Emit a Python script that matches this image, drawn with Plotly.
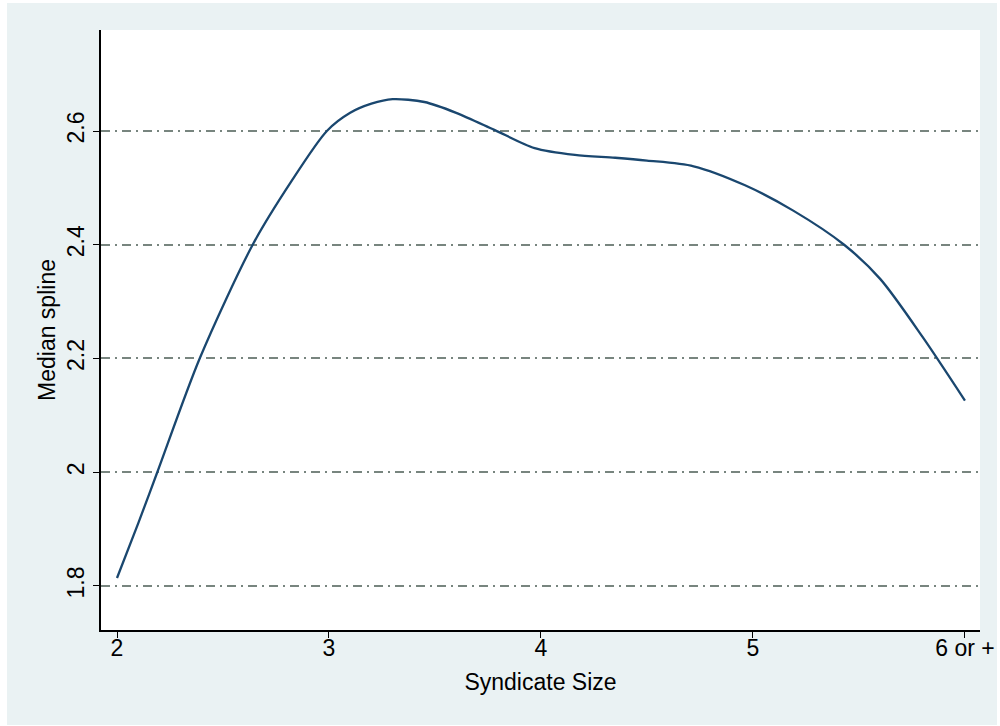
import plotly.graph_objects as go

# Data
syndicate_size = [2.0, 2.1, 2.19, 2.39, 2.64, 2.82, 2.99, 3.1, 3.2, 3.3, 3.45, 3.6, 3.78, 3.97,
                  4.16, 4.35, 4.5, 4.72, 4.96, 5.19, 5.43, 5.6, 5.8, 6.0]
median_spline = [1.814, 1.91, 2.0, 2.2, 2.4, 2.51, 2.6, 2.632, 2.648, 2.656, 2.651, 2.632, 2.602, 2.570,
                 2.558, 2.553, 2.548, 2.538, 2.505, 2.46, 2.40, 2.34, 2.238, 2.126]

x_tickvals = [2, 3, 4, 5, 6]
x_ticktext = ["2", "3", "4", "5", "6 or +"]
y_tickvals = [1.8, 2.0, 2.2, 2.4, 2.6]
y_ticktext = ["1.8", "2", "2.2", "2.4", "2.6"]

FONT = "Arial, Liberation Sans, sans-serif"
FS = 23

fig = go.Figure()
fig.add_trace(go.Scatter(
    x=syndicate_size, y=median_spline, mode="lines",
    line=dict(color="#1a476f", width=2.3, shape="spline", smoothing=0.8),
    showlegend=False, hoverinfo="skip"))

L, R, T, B = 101, 20, 30, 96
W, H = 1000, 726
pw, ph = W - L - R, H - T - B

def px_to_paper_x(px):
    return (px - L) / pw

def px_to_paper_y(py):
    return (H - B - py) / ph

fig.add_shape(type="rect", xref="paper", yref="paper",
              x0=px_to_paper_x(7), x1=px_to_paper_x(997),
              y0=px_to_paper_y(725), y1=px_to_paper_y(3),
              fillcolor="#eaf2f3", line=dict(width=0), layer="below")
fig.add_shape(type="rect", xref="paper", yref="paper",
              x0=0, x1=1, y0=0, y1=1,
              fillcolor="white", line=dict(width=0), layer="below")

fig.update_layout(
    width=W, height=H,
    margin=dict(l=L, r=R, t=T, b=B, autoexpand=False),
    paper_bgcolor="white", plot_bgcolor="rgba(0,0,0,0)",
    font=dict(family=FONT, size=FS, color="black"),
    xaxis=dict(range=[1.9245, 6.071], tickvals=x_tickvals, ticktext=x_ticktext,
               showgrid=False, zeroline=False, showline=True, linecolor="black", linewidth=1.5,
               ticks="outside", ticklen=6, tickwidth=1, tickcolor="black",
               ticklabelstandoff=-9,
               tickfont=dict(family=FONT, size=FS),
               title=dict(text="Syndicate Size", font=dict(family=FONT, size=FS), standoff=14)),
    yaxis=dict(range=[1.7226, 2.7776], tickvals=y_tickvals, ticktext=y_ticktext,
               showgrid=True, gridcolor="#78857f", gridwidth=1.5, griddash="9px,5px,2px,5px",
               zeroline=False, showline=True, linecolor="black", linewidth=1.5,
               ticks="outside", ticklen=6, tickwidth=1, tickcolor="black",
               tickangle=-90, tickfont=dict(family=FONT, size=FS),
               title=dict(text="Median spline", font=dict(family=FONT, size=FS), standoff=1)),
)

fig.write_html("out.html", config={"displayModeBar": False},
               post_script="document.body.style.margin='0';document.body.style.overflow='hidden';")
